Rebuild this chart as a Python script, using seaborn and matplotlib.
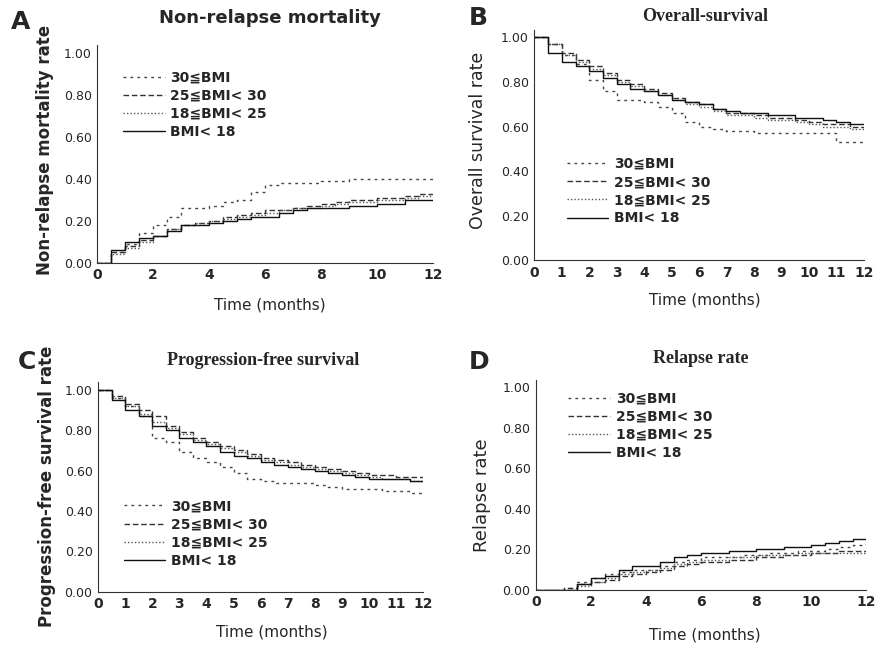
import numpy as np
import pandas as pd
import seaborn as sns
import matplotlib.pyplot as plt

# time grid (months)
months = [0, 0.5, 1, 1.5, 2, 2.5, 3, 3.5, 4, 4.5, 5, 5.5, 6, 6.5, 7, 7.5, 8, 8.5, 9, 9.5, 10, 10.5, 11, 11.5, 12]
groups = ["30\u2266BMI", "25\u2266BMI< 30", "18\u2266BMI< 25", "BMI< 18"]

# A: non-relapse mortality
nrm_30 = [0, .05, .09, .14, .18, .22, .26, .26, .27, .29, .30, .34, .37, .38, .38, .38, .39, .39, .40, .40, .40, .40, .40, .40, .40]
nrm_25 = [0, .05, .08, .11, .13, .16, .18, .19, .20, .22, .23, .24, .25, .25, .26, .27, .28, .29, .30, .30, .31, .31, .32, .33, .33]
nrm_18 = [0, .04, .07, .10, .13, .16, .18, .19, .20, .21, .22, .23, .24, .25, .26, .26, .27, .28, .29, .29, .30, .30, .31, .32, .32]
nrm_lt18 = [0, .06, .10, .12, .13, .15, .18, .18, .19, .20, .21, .22, .22, .24, .25, .26, .26, .26, .27, .27, .28, .28, .30, .30, .30]

# B: overall survival
os_30 = [1, .97, .92, .88, .81, .76, .72, .72, .71, .69, .66, .62, .60, .59, .58, .58, .57, .57, .57, .57, .57, .57, .53, .53, .53]
os_25 = [1, .97, .93, .90, .87, .84, .81, .79, .77, .75, .73, .71, .70, .68, .66, .66, .65, .64, .64, .63, .62, .61, .61, .60, .60]
os_18 = [1, .97, .92, .89, .86, .83, .80, .78, .76, .74, .72, .70, .69, .67, .65, .65, .64, .63, .63, .62, .61, .60, .60, .59, .59]
os_lt18 = [1, .93, .89, .87, .85, .82, .79, .77, .76, .74, .72, .71, .70, .68, .67, .66, .66, .65, .65, .64, .64, .63, .62, .61, .61]

# C: progression-free survival
pfs_30 = [1, .96, .92, .87, .76, .74, .69, .66, .64, .62, .59, .56, .55, .54, .54, .54, .53, .52, .51, .51, .51, .50, .50, .49, .49]
pfs_25 = [1, .97, .93, .90, .87, .82, .79, .76, .74, .72, .70, .68, .66, .65, .64, .63, .62, .61, .60, .59, .58, .58, .57, .57, .57]
pfs_18 = [1, .96, .92, .88, .84, .81, .78, .75, .73, .71, .69, .67, .65, .64, .63, .62, .61, .60, .59, .58, .57, .56, .56, .55, .55]
pfs_lt18 = [1, .95, .90, .87, .82, .80, .76, .74, .72, .69, .67, .66, .64, .63, .62, .61, .60, .59, .58, .57, .56, .56, .56, .55, .55]

# D: relapse
rel_30 = [0, 0, .01, .04, .06, .08, .09, .10, .10, .12, .14, .15, .16, .16, .16, .17, .17, .18, .18, .19, .19, .20, .21, .22, .23]
rel_25 = [0, 0, .01, .03, .04, .05, .07, .08, .09, .10, .12, .13, .14, .14, .15, .15, .16, .16, .17, .17, .18, .18, .19, .19, .19]
rel_18 = [0, 0, 0, .02, .04, .06, .08, .09, .10, .11, .13, .14, .15, .15, .16, .16, .17, .17, .17, .18, .18, .18, .18, .18, .18]
rel_lt18 = [0, 0, 0, .03, .06, .07, .10, .12, .12, .14, .16, .17, .18, .18, .19, .19, .20, .20, .21, .21, .22, .23, .24, .25, .25]

sns.set_style("white")
plt.rcParams['font.family'] = ['DejaVu Sans']

styles = {groups[0]: (2, 3), groups[1]: (4, 2), groups[2]: (1, 1.5), groups[3]: ""}
colors = {groups[0]: "#444444", groups[1]: "#333333", groups[2]: "#555555", groups[3]: "#111111"}


def long_df(series):
    rows = []
    for g, vals in zip(groups, series):
        for t, v in zip(months, vals):
            rows.append({"time": t, "rate": v, "group": g})
    return pd.DataFrame(rows)


# letter, title, ylabel, data, axes rect, x step, legend anchor,
# title pos, ylabel pos, xlabel pos, letter pos, ylabel size, ylabel weight
panels = [
    ("A", "Non-relapse mortality", "Non-relapse mortality rate", [nrm_30, nrm_25, nrm_18, nrm_lt18],
     [0.111, 0.595, 0.383, 0.336], 2, (0.04, 0.94),
     (0.308, 0.972), (0.051, 0.769), (0.308, 0.530), (0.012, 0.966), 12, "bold"),
    ("B", "Overall-survival", "Overall survival rate", [os_30, os_25, os_18, os_lt18],
     [0.610, 0.599, 0.376, 0.357], 1, (0.06, 0.50),
     (0.805, 0.974), (0.546, 0.784), (0.805, 0.538), (0.535, 0.972), 12.5, "normal"),
    ("C", "Progression-free survival", "Progression-free survival rate", [pfs_30, pfs_25, pfs_18, pfs_lt18],
     [0.112, 0.088, 0.371, 0.324], 1, (0.04, 0.50),
     (0.30, 0.445), (0.054, 0.250), (0.31, 0.026), (0.020, 0.442), 12, "bold"),
    ("D", "Relapse rate", "Relapse rate", [rel_30, rel_25, rel_18, rel_lt18],
     [0.612, 0.091, 0.377, 0.325], 2, (0.06, 1.0),
     (0.80, 0.448), (0.550, 0.237), (0.805, 0.022), (0.535, 0.442), 13, "normal"),
]

fig = plt.figure(figsize=(8.76, 6.49), dpi=100)

for (letter, title, ylab, series, pos, xstep, legpos,
     tpos, ylpos, xlpos, lpos, ylsize, ylweight) in panels:
    ax = fig.add_axes(pos)
    df = long_df(series)
    sns.lineplot(data=df, x="time", y="rate", hue="group", style="group",
                 palette=colors, dashes=styles, drawstyle="steps-post",
                 linewidth=1.0, ax=ax, legend=True)
    ax.set_xlim(0, 12)
    ax.set_ylim(0, 1.04)
    xt = np.arange(0, 12.1, xstep)
    ax.set_xticks(xt)
    ax.set_xticklabels([str(int(v)) for v in xt], fontweight="bold", fontsize=10)
    ax.set_yticks([0, .2, .4, .6, .8, 1.0])
    ax.set_yticklabels(["%.2f" % v for v in [0, .2, .4, .6, .8, 1.0]], fontsize=9)
    ax.tick_params(axis="both", length=3, width=0.8, direction="in", pad=4)
    ax.set_xlabel("")
    ax.set_ylabel("")
    for s in ["top", "right"]:
        ax.spines[s].set_visible(False)
    for s in ["left", "bottom"]:
        ax.spines[s].set_linestyle((0, (1, 1)))
        ax.spines[s].set_color("#333333")
    ax.legend(loc="upper left", bbox_to_anchor=legpos, frameon=False,
              handlelength=3.0, handletextpad=0.4, labelspacing=0.3,
              prop={"family": ["DejaVu Sans"], "weight": "bold", "size": 10})
    fig.text(tpos[0], tpos[1], title, ha="center", va="center", fontsize=13, fontweight="bold",
             fontfamily="DejaVu Sans" if letter == "A" else "Liberation Serif")
    fig.text(ylpos[0], ylpos[1], ylab, rotation=90, ha="center", va="center",
             fontsize=ylsize, fontweight=ylweight)
    fig.text(xlpos[0], xlpos[1], "Time (months)", ha="center", va="center", fontsize=11)
    fig.text(lpos[0], lpos[1], letter, fontsize=18, fontweight="bold", va="center")

fig.savefig("out.png", dpi=100, facecolor="white")
